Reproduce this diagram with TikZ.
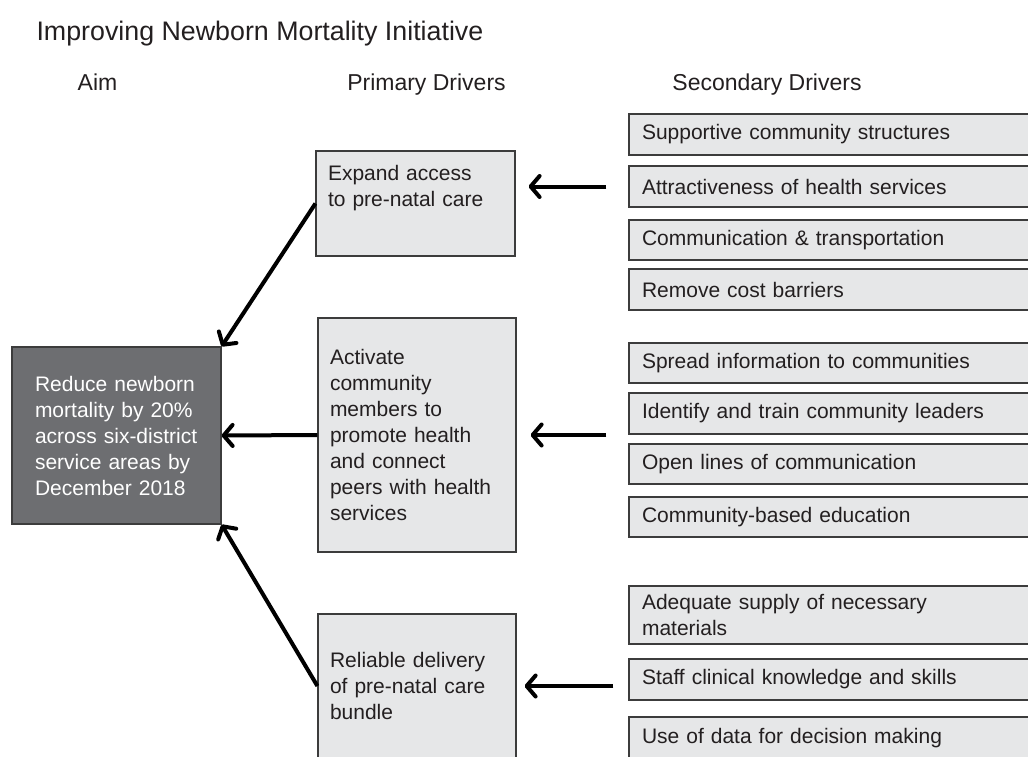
\documentclass[tikz,border=0pt]{standalone}
\usepackage{fontspec}
\setmainfont{Liberation Sans}
\usetikzlibrary{arrows.meta}

\definecolor{ink}{HTML}{231F20}
\definecolor{edge}{HTML}{3C3C3C}
\definecolor{aimgray}{HTML}{6D6E71}
\definecolor{boxgray}{HTML}{E6E7E8}

\begin{document}
\begin{tikzpicture}[x=1pt,y=-1pt,
  every node/.style={text=ink, font=\fontsize{21}{26}\selectfont},
  head/.style={font=\fontsize{23}{28}\selectfont, anchor=base},
  driver/.style={draw=edge, line width=1.2pt, fill=boxgray, align=left,
    inner xsep=12pt, inner ysep=0pt},
  second/.style={driver, inner xsep=13pt, minimum width=411pt, text width=385pt},
  aim/.style={driver, fill=aimgray, text=white, inner xsep=23pt},
  arr/.style={-{Straight Barb[length=9pt,width=21pt,round]}, line width=4pt}]

\useasboundingbox (0,0) rectangle (1028,756);

\node [anchor=base west, font=\fontsize{26.8}{30}\selectfont] (T0) at (33,40)
  {Improving Newborn Mortality Initiative};
\node [head] (H0) at (97.5,90) {Aim};
\node [head] (H1) at (426.5,90) {Primary Drivers};
\node [head] (H2) at (767,90) {Secondary Drivers};

\node [aim, minimum width=209pt, minimum height=177pt, text width=163pt] (A0)
  at (116.5,435.5)
  {Reduce newborn\\mortality by 20\%\\across six-district\\service areas by\\December 2018};

\node [driver, minimum width=199pt, minimum height=105pt, text width=175pt] (P1)
  at (415.5,203.5) {Expand access\\to pre-natal care\\[10pt]\mbox{}};
\node [driver, minimum width=198pt, minimum height=234pt, text width=174pt] (P2)
  at (417,435)
  {Activate\\community\\members to\\promote health\\and connect\\peers with health\\services};
\node [driver, minimum width=198pt, minimum height=144pt, text width=174pt] (P3)
  at (417,686) {Reliable delivery\\of pre-natal care\\bundle};

\node [second, minimum height=41pt] (S1) at (834.5,134.5) {Supportive community structures};
\node [second, minimum height=41pt] (S2) at (834.5,186.5) {Attractiveness of health services};
\node [second, minimum height=40pt] (S3) at (834.5,240) {Communication \& transportation};
\node [second, minimum height=41pt] (S4) at (834.5,289.5) {Remove cost barriers};

\node [second, minimum height=40pt] (S5) at (834.5,363) {Spread information to communities};
\node [second, minimum height=41pt] (S6) at (834.5,413.5) {Identify and train community leaders};
\node [second, minimum height=40pt] (S7) at (834.5,464) {Open lines of communication};
\node [second, minimum height=40pt] (S8) at (834.5,517) {Community-based education};

\node [second, minimum height=58pt] (S9) at (834.5,615) {Adequate supply of necessary\\materials};
\node [second, minimum height=41pt] (S10) at (834.5,679.5) {Staff clinical knowledge and skills};
\node [second, minimum height=43pt] (S11) at (834.5,738.5) {Use of data for decision making};

\draw [arr, shorten <=22pt, shorten >=13pt] (S2.west) -- (S2.west -| P1.east);
\draw [arr, shorten <=22pt, shorten >=14pt] (P2.east -| S6.west) -- (P2.east);
\draw [arr, shorten <=15pt, shorten >=8pt] (P3.east -| S10.west) -- (P3.east);

\draw [arr] (P1.west) -- (A0.north east);
\draw [arr] (P2.west) -- (A0.east);
\draw [arr] (P3.west) -- (A0.south east);

\end{tikzpicture}
\end{document}
